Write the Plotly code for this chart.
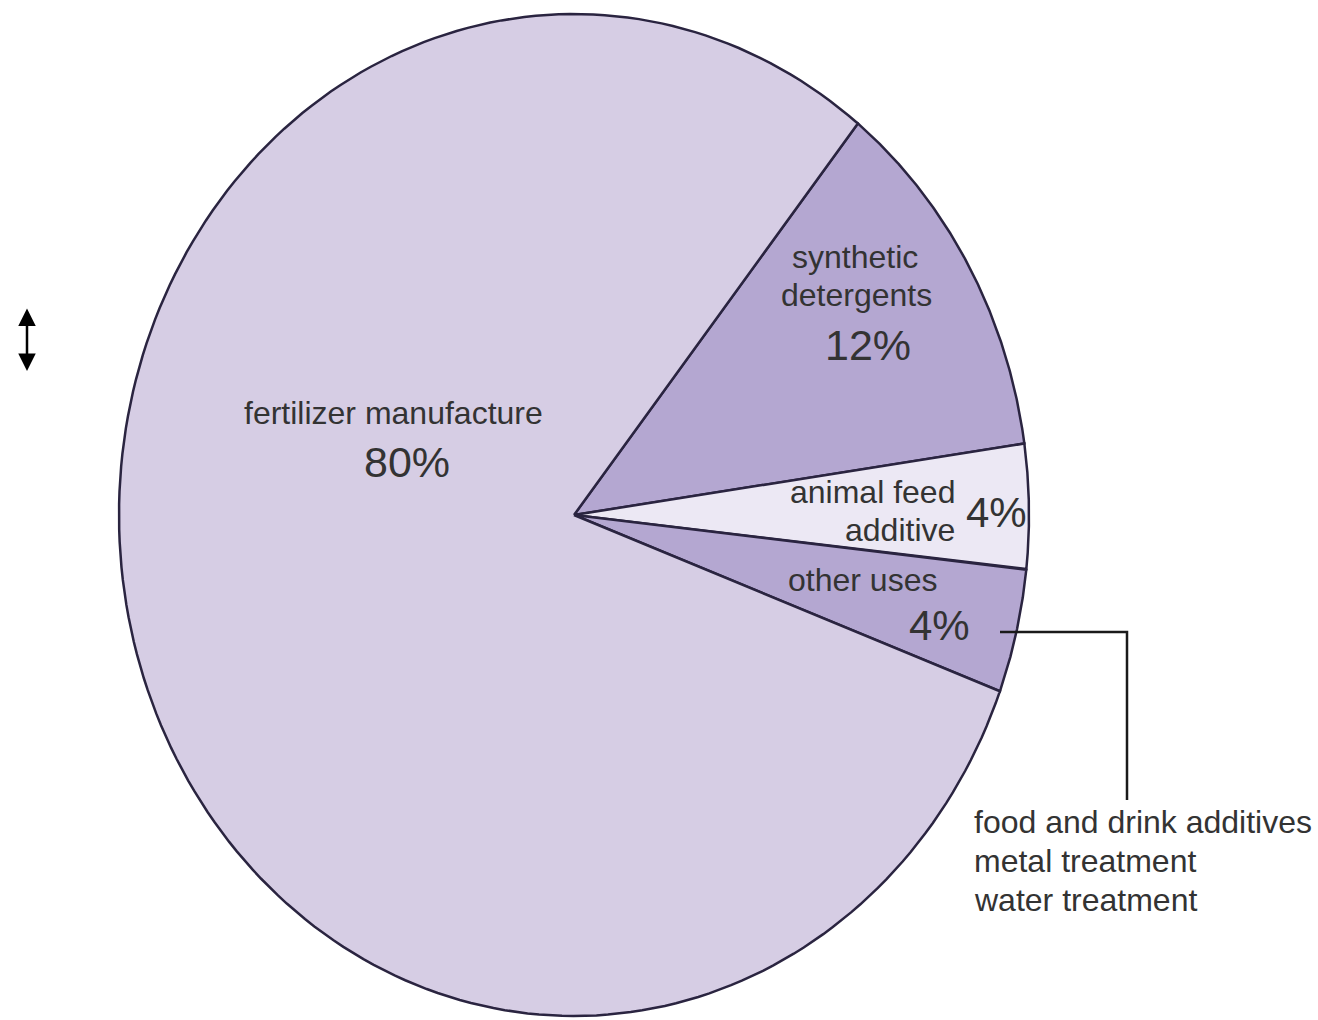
import numpy as np
import plotly.graph_objects as go

# Uses of phosphoric acid (share of production, %)
categories = ["synthetic detergents", "animal feed additive", "other uses", "fertilizer manufacture"]
values = [12, 4, 4, 80]
colors = ["#b4a7d1", "#ece8f4", "#b4a7d1", "#d6cde4"]
other_uses_detail = ["food and drink additives", "metal treatment", "water treatment"]

# Pie geometry (page pixels, y grows downward)
CX, CY = 574, 515
RX, RY = 455, 501
START_DEG = 38.6  # first slice begins here, measured clockwise from 12 o'clock

W, H = 1318, 1020
OUTLINE = "#2a2440"
TEXT = "#333333"
FONT = "Liberation Sans, Arial, sans-serif"
NAME_SIZE = 32
PCT_SIZE = 43


def wedge(a0, a1, n=200):
    t = np.radians(np.linspace(a0, a1, n))
    xs = np.concatenate([[CX], CX + RX * np.sin(t), [CX]])
    ys = np.concatenate([[CY], CY - RY * np.cos(t), [CY]])
    return xs, ys


fig = go.Figure()
total = sum(values)
angle = START_DEG
for name, v, c in zip(categories, values, colors):
    span = 360.0 * v / total
    xs, ys = wedge(angle, angle + span)
    fig.add_trace(go.Scatter(
        x=xs, y=ys, mode="lines", fill="toself", fillcolor=c,
        line=dict(color=OUTLINE, width=2.5), name=name, hoverinfo="name",
        showlegend=False,
    ))
    angle += span

pct = {k: f"{v}%" for k, v in zip(categories, values)}


def label(x, y, text, size, anchor="center"):
    fig.add_annotation(x=x, y=y, text=text, showarrow=False, xanchor=anchor,
                       yanchor="middle", font=dict(family=FONT, size=size, color=TEXT))


# slice labels
label(855, 257, "synthetic", NAME_SIZE)
label(856, 295, "detergents", NAME_SIZE)
label(868, 345, pct["synthetic detergents"], PCT_SIZE)

label(393, 413, "fertilizer manufacture", NAME_SIZE)
label(407, 462, pct["fertilizer manufacture"], PCT_SIZE)

label(957, 492, "animal feed", NAME_SIZE, "right")
label(957, 530, "additive", NAME_SIZE, "right")
label(996, 512, pct["animal feed additive"], 42)

label(862, 580, "other uses", NAME_SIZE)
label(939, 625, pct["other uses"], 42)

# callout from "other uses" to its breakdown
fig.add_trace(go.Scatter(
    x=[1000, 1127, 1127], y=[632, 632, 800], mode="lines",
    line=dict(color="#1a1a1a", width=2.5), hoverinfo="skip", showlegend=False,
))
for i, line_text in enumerate(other_uses_detail):
    fig.add_annotation(x=972, y=822 + 39 * i, text=line_text, showarrow=False,
                       xanchor="left", yanchor="middle",
                       font=dict(family=FONT, size=NAME_SIZE, color=TEXT))

# double-headed arrow on the left
fig.add_annotation(x=27, y=371, ax=27, ay=307, xref="x", yref="y", axref="x", ayref="y",
                   text="", showarrow=True, arrowhead=2, startarrowhead=2,
                   arrowside="end+start", arrowsize=1.4, startarrowsize=1.4,
                   arrowwidth=2.5, arrowcolor="#000000")

fig.update_xaxes(range=[0, W], visible=False, fixedrange=True)
fig.update_yaxes(range=[H, 0], visible=False, fixedrange=True)
fig.update_layout(
    width=W, height=H, margin=dict(l=0, r=0, t=0, b=0),
    paper_bgcolor="white", plot_bgcolor="white",
)

fig.write_html("out.html")
